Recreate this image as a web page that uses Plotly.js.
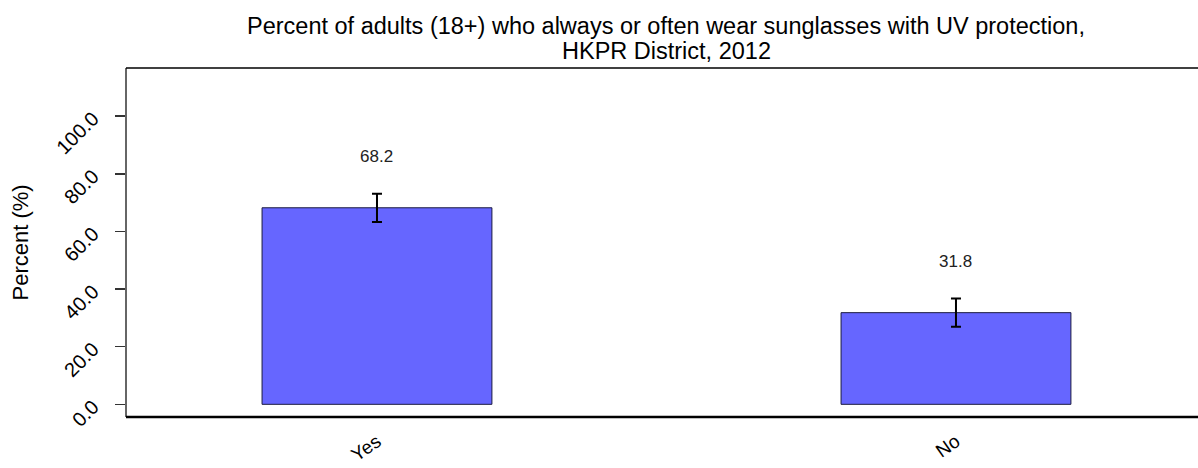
<!DOCTYPE html>
<html>
<head>
<meta charset="utf-8">
<script src="https://cdn.plot.ly/plotly-3.0.1.min.js"></script>
<style>html,body{margin:0;padding:0;background:#fff;}#chart{width:1198px;height:468px;}</style>
</head>
<body>
<div id="chart"></div>
<script>
const categories = ["Yes", "No"];
const percentValues = [68.2, 31.8];
const ciLower = [63.3, 26.9];
const ciUpper = [73.1, 36.7];
const yTickValues = [0, 20, 40, 60, 80, 100];
const yTickLabels = ["0.0", "20.0", "40.0", "60.0", "80.0", "100.0"];
const titleLines = ["Percent of adults (18+) who always or often wear sunglasses with UV protection,", "HKPR District, 2012"];
const yTitle = "Percent (%)";
const labelOffset = 13;

const FONT = "Liberation Sans, Arial, sans-serif";

const trace = {
  type: "bar",
  x: categories,
  y: percentValues,
  width: 0.397,
  marker: {color: "#6666FF", line: {color: "#1a1a40", width: 1}},
  error_y: {
    type: "data",
    symmetric: false,
    array: percentValues.map((v, i) => ciUpper[i] - v),
    arrayminus: percentValues.map((v, i) => v - ciLower[i]),
    color: "#000000",
    thickness: 2,
    width: 5
  },
  hoverinfo: "skip"
};

const annotations = categories.map((c, i) => ({
  x: c, y: ciUpper[i] + labelOffset, xref: "x", yref: "y",
  text: percentValues[i].toFixed(1), showarrow: false,
  font: {family: FONT, size: 17, color: "#222"}
}));
annotations.push({
  xref: "paper", yref: "paper", x: -0.098, y: 0.5, xanchor: "center", yanchor: "middle",
  text: yTitle, textangle: -90, showarrow: false,
  font: {family: FONT, size: 22, color: "#000"}
});
const titleY = [1.1203, 1.0487];
titleLines.forEach((t, i) => annotations.push({
  xref: "paper", yref: "paper", x: 0.504, y: titleY[i], xanchor: "center", yanchor: "middle",
  text: t, showarrow: false, borderpad: 0, font: {family: FONT, size: 23.5, color: "#000"}
}));

const layout = {
  width: 1198, height: 468,
  margin: {l: 126, r: 0, t: 68, b: 51},
  paper_bgcolor: "#fff", plot_bgcolor: "#fff",
  showlegend: false,
  font: {family: FONT, color: "#000"},
  xaxis: {
    type: "category", range: [-0.4335, 1.418], showgrid: false, zeroline: false,
    showline: false, ticks: "", tickangle: -35, ticklabelstandoff: 9,
    tickfont: {size: 19, color: "#000"}, fixedrange: true
  },
  yaxis: {
    range: [-4.4, 116.7], showgrid: false, zeroline: false, showline: false,
    tickvals: yTickValues, ticktext: yTickLabels, ticks: "outside", ticklen: 10,
    tickcolor: "#333", tickwidth: 1.5, tickangle: -45, ticklabelstandoff: 18,
    tickfont: {size: 20, color: "#000"}, fixedrange: true
  },
  shapes: [
    {type: "line", xref: "paper", yref: "paper", x0: 0, x1: 0, y0: 0, y1: 1, line: {color: "#333", width: 1.5}},
    {type: "line", xref: "paper", yref: "paper", x0: 0, x1: 1, y0: 1, y1: 1, line: {color: "#000", width: 1.5}},
    {type: "line", xref: "paper", yref: "paper", x0: 0, x1: 1, y0: 0, y1: 0, line: {color: "#000", width: 2.5}}
  ],
  annotations: annotations
};

Plotly.newPlot("chart", [trace], layout, {displayModeBar: false, staticPlot: true});
</script>
</body>
</html>
